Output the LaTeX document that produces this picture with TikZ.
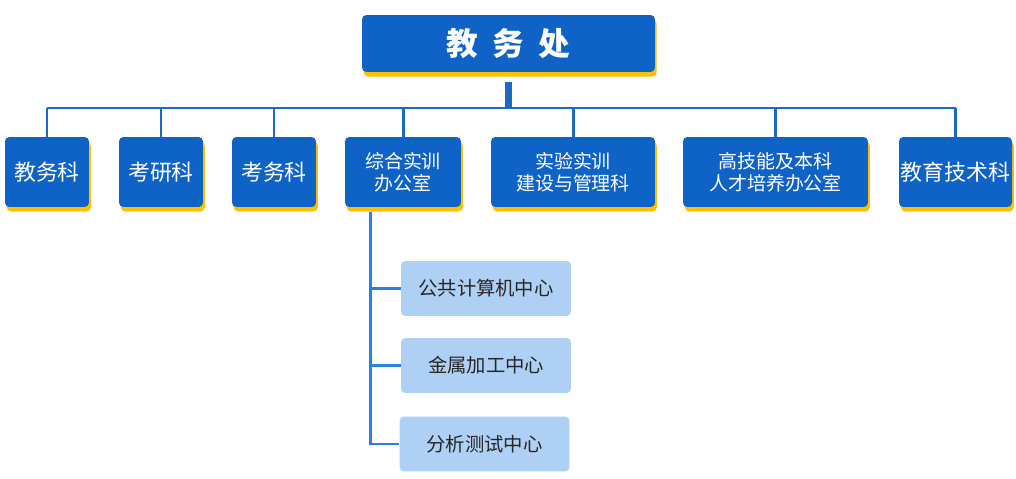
\documentclass[tikz,border=0pt]{standalone}
\usepackage{fontspec}
\newfontfamily\cjk{Noto Sans CJK SC}
\usetikzlibrary{shadows, calc}
\definecolor{blu}{HTML}{1063C6}
\definecolor{giallo}{HTML}{FFC000}
\definecolor{celeste}{HTML}{AED0F5}
\definecolor{linea}{HTML}{1C68C4}
\definecolor{ramo}{HTML}{2A80E4}

\begin{document}
\begin{tikzpicture}[
  x=0.02cm, y=-0.02cm,
  font=\cjk,
  blocco/.style={fill=blu, text=white, rounded corners=2.5pt, align=center,
                 inner sep=0pt, minimum height=1.4cm,
                 drop shadow={shadow xshift=1pt, shadow yshift=-2.6pt,
                              fill=giallo, opacity=1}},
  testa/.style={blocco, minimum width=5.86cm, minimum height=1.14cm,
                font=\cjk\bfseries\fontsize{18}{20}\selectfont},
  singolo/.style={font=\cjk\fontsize{12.5}{14}\selectfont},
  doppio/.style={font=\cjk\fontsize{10.8}{12.6}\selectfont},
  centro/.style={fill=celeste, text=black!85, rounded corners=2.5pt,
                 minimum width=3.4cm, minimum height=1.1cm,
                 font=\cjk\fontsize{11}{13}\selectfont},
  collegamento/.style={draw=linea, line width=1.7pt},
  tronco/.style={draw=linea, line width=4pt},
  diramazione/.style={draw=ramo, line width=1.7pt}
]
\useasboundingbox (0,0) rectangle (1016,479);

% direzione
\node[testa] (jwc) at (508.5,43.5) {教\hspace{0.45em}务\hspace{0.45em}处};

% uffici
\foreach \n/\x/\w/\s/\t in {
    jwk/47/1.68/singolo/教务科,
    kyk/161/1.68/singolo/考研科,
    kwk/274/1.68/singolo/考务科,
    zhsx/403/2.32/doppio/{综合实训\\办公室},
    sysx/573/3.28/doppio/{实验实训\\建设与管理科},
    gjn/775.5/3.7/doppio/{高技能及本科\\人才培养办公室},
    jyjs/955.5/2.26/singolo/教育技术科} {
  \node[blocco, \s, minimum width=\w cm] (\n) at (\x,172) {\t};
  \draw[collegamento] (\n.north) -- (\n.north |- 0,108);
}

\coordinate (bus) at (jwc.south |- 0,108);
\draw[tronco] ($(jwc.south)+(0,10)$) -- (bus);
\draw[collegamento] (jwk.north |- bus) -- (jyjs.north |- bus);

% centri
\node[centro] (ggjs) at (486,288.5) {公共计算机中心};
\node[centro] (jsjg) at (486,365.5) {金属加工中心};
\node[centro] (fxcs) at (484.5,444) {分析测试中心};

\coordinate (ramo) at (370,212);
\draw[diramazione] (ramo) |- (fxcs.west);
\foreach \c in {ggjs, jsjg}
  \draw[diramazione] (ramo |- \c.west) -- (\c.west);

\end{tikzpicture}
\end{document}
